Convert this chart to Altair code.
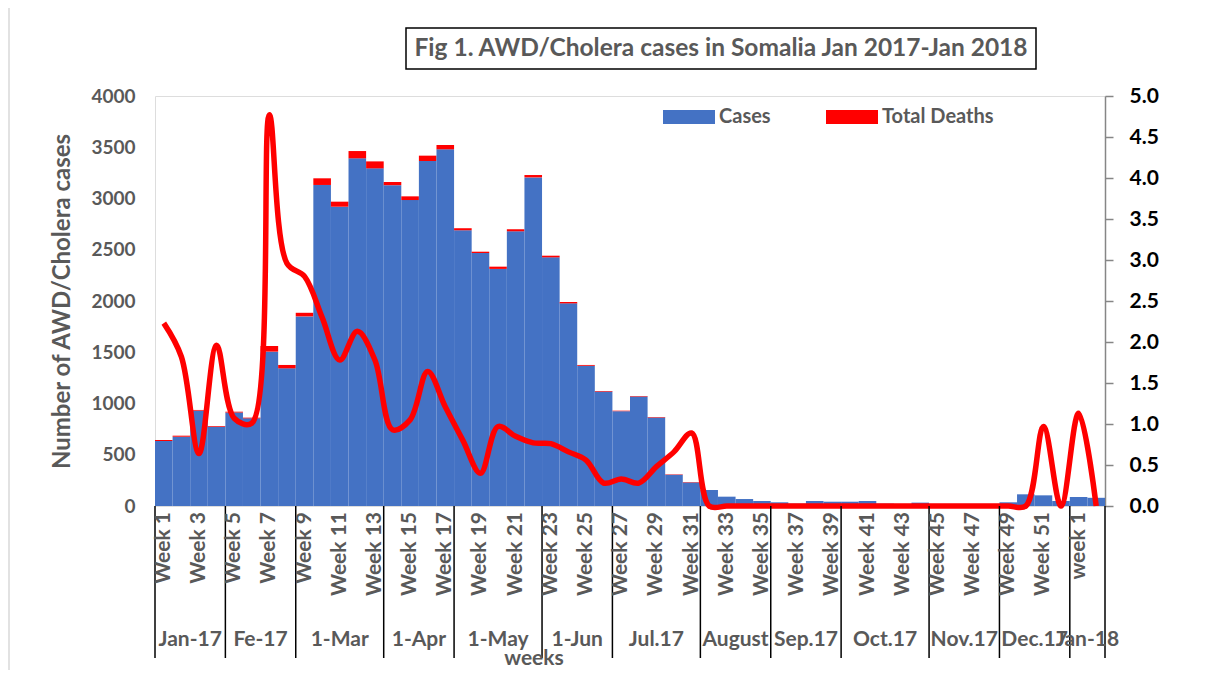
import altair as alt
import pandas as pd

# ---------------- data ----------------
week_labels = [f"Week {i}" for i in range(1, 53)] + ["week 1", "week 2"]

cases = [634, 676, 930, 773, 912, 855, 1506, 1343, 1850, 3132,
         2920, 3392, 3294, 3130, 2985, 3366, 3480, 2690, 2468, 2313,
         2680, 3206, 2426, 1977, 1368, 1116, 925, 1068, 863, 305,
         230, 156, 91, 68, 49, 36, 23, 49, 42, 42,
         49, 23, 20, 33, 20, 20, 20, 20, 36, 114,
         104, 49, 88, 80]

deaths = [10, 10, 7, 7, 8, 7, 55, 33, 35, 65,
          49, 71, 68, 31, 36, 52, 42, 20, 13, 22,
          20, 23, 16, 13, 8, 6, 5, 5, 5, 4,
          4, 0, 0, 0, 0, 0, 0, 0, 0, 0,
          0, 0, 0, 0, 0, 0, 0, 0, 0, 0,
          0, 0, 0, 0]

death_line = [2.23, 1.82, 0.64, 1.96, 1.07, 1.01, 4.77, 2.96, 2.80, 2.30,
              1.78, 2.13, 1.78, 0.93, 1.05, 1.64, 1.21, 0.80, 0.40, 0.97,
              0.85, 0.77, 0.76, 0.66, 0.56, 0.28, 0.33, 0.28, 0.48, 0.66,
              0.89, 0.0, 0.0, 0.0, 0.0, 0.0, 0.0, 0.0, 0.0, 0.0,
              0.0, 0.0, 0.0, 0.0, 0.0, 0.0, 0.0, 0.0, 0.0, 0.0,
              0.97, 0.0, 1.13, 0.0]

months = ["Jan-17", "Fe-17", "1-Mar", "1-Apr", "1-May", "1-Jun", "Jul.17",
          "August", "Sep.17", "Oct.17", "Nov.17", "Dec.17", "Jan-18"]
month_weeks = [4, 4, 5, 4, 5, 4, 5, 4, 4, 5, 4, 4, 2]

series_names = ["Cases", "Total Deaths"]
series_colors = ["#4472C4", "#FF0000"]

title_text = "Fig 1. AWD/Cholera cases in Somalia Jan 2017-Jan 2018"
x_title = "weeks"
y_title = "Number of AWD/Cholera cases"

# ---------------- tables ----------------
n = len(cases)
rows = []
for i in range(n):
    rows.append({"x0": i, "x1": i + 1, "y0": 0, "y1": cases[i], "series": "Cases"})
    rows.append({"x0": i, "x1": i + 1, "y0": cases[i], "y1": cases[i] + deaths[i],
                 "series": "Total Deaths"})
bars_df = pd.DataFrame(rows)

line_df = pd.DataFrame({"xc": [i + 0.5 for i in range(n)], "v": death_line})

lab_df = pd.DataFrame({"xc": [i + 0.5 for i in range(0, n, 2)],
                       "label": [week_labels[i] for i in range(0, n, 2)]})

bounds = [0]
for w in month_weeks:
    bounds.append(bounds[-1] + w)
month_df = pd.DataFrame({"month": months,
                         "xc": [(bounds[i] + bounds[i + 1]) / 2 for i in range(len(months))]})
bound_df = pd.DataFrame({"b": bounds})

FONT = "Lato"
GRAY = "#595959"
W, H = 950, 410
xscale = alt.Scale(domain=[0, n], nice=False, zero=False)

bars = alt.Chart(bars_df).mark_rect(strokeWidth=0).encode(
    x=alt.X("x0:Q", scale=xscale, axis=None),
    x2="x1:Q",
    y=alt.Y("y0:Q", scale=alt.Scale(domain=[0, 4000], nice=False),
            axis=alt.Axis(values=list(range(0, 4001, 500)), format="d", ticks=False,
                          labelPadding=20, domain=False, grid=False, labelFont=FONT,
                          labelFontSize=19, labelFontWeight="bold", labelColor=GRAY,
                          title=y_title, titleFont=FONT,
                          titleFontSize=24, titleFontWeight="bold", titleColor=GRAY,
                          titleX=-93, titleY=205, titleBaseline="middle")),
    y2="y1:Q",
    color=alt.Color("series:N", sort=series_names,
                    scale=alt.Scale(domain=series_names, range=series_colors),
                    legend=alt.Legend(title=None, orient="none", legendX=508, legendY=-5,
                                      direction="horizontal",
                                      symbolType="M-1,-0.27H1V0.27H-1Z", symbolSize=2704,
                                      symbolStrokeWidth=0, labelFont=FONT, labelFontSize=20,
                                      labelFontWeight="bold", labelColor=GRAY,
                                      labelOffset=4, columnPadding=55)),
)

line = alt.Chart(line_df).mark_line(interpolate="catmull-rom", color="#FF0000",
                                    strokeWidth=5.5).encode(
    x=alt.X("xc:Q", scale=xscale, axis=None),
    y=alt.Y("v:Q", scale=alt.Scale(domain=[0, 5], nice=False),
            axis=alt.Axis(orient="right", values=[i / 2 for i in range(11)], format=".1f",
                          tickSize=8, tickColor="#868686", tickWidth=1.5,
                          domainColor="#868686", domainWidth=1.5, grid=False,
                          labelPadding=16, labelFont=FONT, labelFontSize=21,
                          labelFontWeight="bold", labelColor="black", title=None)),
)

seps = alt.Chart(bound_df).mark_rule(color="black", strokeWidth=1.5).encode(
    x=alt.X("b:Q", scale=xscale, axis=None),
    y=alt.value(H),
    y2=alt.value(H + 152),
)

week_text = alt.Chart(lab_df).mark_text(angle=270, align="right", baseline="middle",
                                        font=FONT, fontSize=21, fontWeight="bold",
                                        color=GRAY).encode(
    x=alt.X("xc:Q", scale=xscale, axis=None),
    y=alt.value(H + 6),
    text="label:N",
)

month_text = alt.Chart(month_df).mark_text(baseline="middle", font=FONT, fontSize=21,
                                           fontWeight="bold", color=GRAY).encode(
    x=alt.X("xc:Q", scale=xscale, axis=None),
    y=alt.value(544),
    text="month:N",
)

xtitle = alt.Chart(pd.DataFrame({"t": [x_title]})).mark_text(
    font=FONT, fontSize=21, fontWeight="bold", color=GRAY, baseline="middle").encode(
    x=alt.value(379), y=alt.value(563), text="t:N")

title_box = alt.Chart(pd.DataFrame({"t": [title_text]})).mark_rect(
    fill="white", stroke="black", strokeWidth=1.5).encode(
    x=alt.value(251), x2=alt.value(881), y=alt.value(-68), y2=alt.value(-27))

title_lbl = alt.Chart(pd.DataFrame({"t": [title_text]})).mark_text(
    font=FONT, fontSize=24.5, fontWeight="bold", color=GRAY, baseline="middle").encode(
    x=alt.value(566), y=alt.value(-47), text="t:N")

frame = alt.Chart(pd.DataFrame({"t": [0]})).mark_rule(color="#D9D9D9", strokeWidth=1.5).encode(
    x=alt.value(-146), y=alt.value(-88), y2=alt.value(576))

chart = alt.layer(frame, bars, line, seps, week_text, month_text, xtitle,
                  title_box, title_lbl).resolve_scale(
    y="independent"
).properties(
    width=W, height=H,
    autosize=alt.AutoSizeParams(type="none"),
    padding={"left": 147, "top": 88, "right": 84, "bottom": 164},
).configure_view(stroke="black", strokeWidth=1.5).configure(background="white")

chart.save("out.html", embed_options={"renderer": "svg", "actions": False})
